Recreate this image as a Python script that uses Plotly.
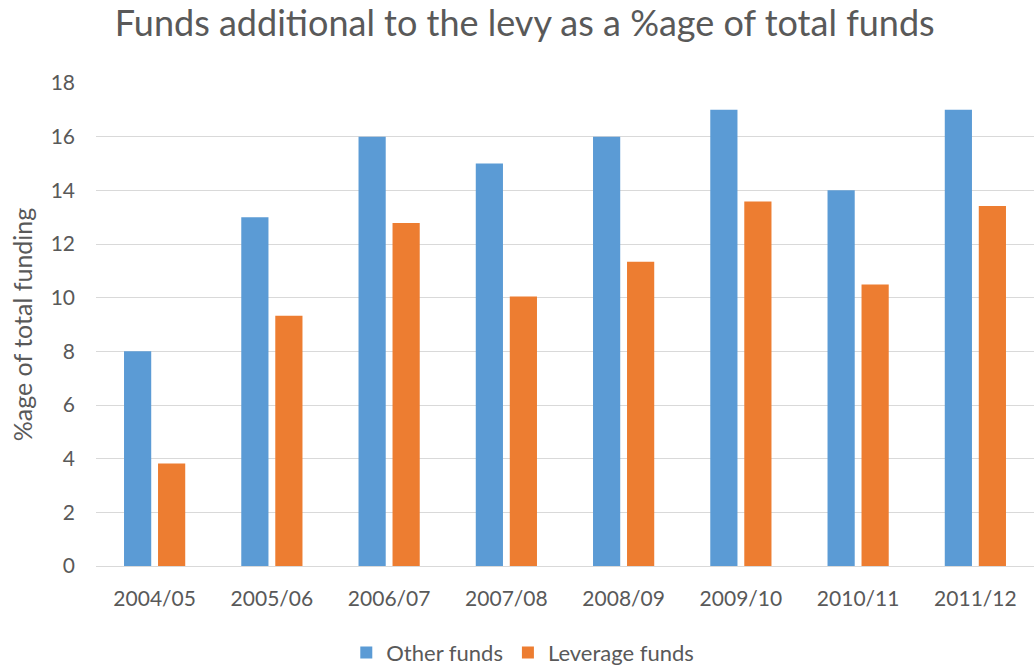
import plotly.graph_objects as go

years = ["2004/05", "2005/06", "2006/07", "2007/08", "2008/09", "2009/10", "2010/11", "2011/12"]
other_funds = [8, 13, 16, 15, 16, 17, 14, 17]
leverage_funds = [3.82, 9.33, 12.78, 10.04, 11.34, 13.58, 10.49, 13.42]

FONT = "Lato"
GREY = "#595959"

fig = go.Figure()
fig.add_trace(go.Bar(name="Other funds", x=years, y=other_funds,
                     marker=dict(color="#5B9BD5", line=dict(width=0))))
fig.add_trace(go.Bar(name="Leverage funds", x=years, y=leverage_funds,
                     marker=dict(color="#ED7D31", line=dict(width=0))))

fig.update_layout(
    width=1035, height=666,
    paper_bgcolor="white", plot_bgcolor="white",
    margin=dict(l=96, r=1, t=83, b=100, autoexpand=False),
    barmode="group", bargap=0.42, bargroupgap=0.2,
    font=dict(family=FONT, color=GREY),
    title=dict(text="Funds additional to the levy as a %age of total funds",
               x=0.507, xanchor="center", y=0.965, yanchor="middle",
               font=dict(size=36, color=GREY, family=FONT)),
    xaxis=dict(tickfont=dict(size=21, color=GREY), showgrid=False, automargin=False,
               showline=False, ticks="", ticklabelstandoff=18),
    yaxis=dict(range=[0, 18], dtick=2, tickfont=dict(size=21, color=GREY),
               gridcolor="#D9D9D9", gridwidth=1.3, zeroline=True, automargin=False,
               zerolinecolor="#D9D9D9", zerolinewidth=1.3, ticks="",
               ticklabelstandoff=20,
               title=dict(text="%age of total funding",
                          font=dict(size=25, color=GREY), standoff=10)),
    legend=dict(orientation="h", x=0.455, xanchor="center",
                yref="container", y=0.02, yanchor="middle",
                font=dict(size=22, color=GREY), itemwidth=30, traceorder="normal"),
)

fig.write_html("out.html")
